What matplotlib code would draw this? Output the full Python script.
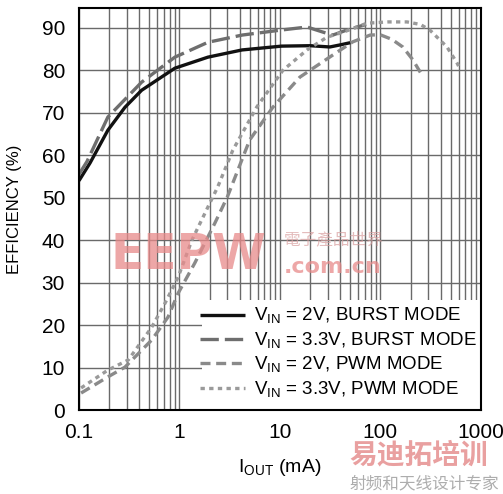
import matplotlib
matplotlib.use("Agg")
import matplotlib.pyplot as plt
from matplotlib.patches import Rectangle
import numpy as np

plt.rcParams['font.family'] = ['Liberation Sans', 'DejaVu Sans']

# V_IN = 2V, burst mode
burst2_x = [0.1, 0.129, 0.194, 0.287, 0.42, 0.9, 1.92, 4.2, 10.4, 20, 31.4, 40, 50]
burst2_y = [54, 58.2, 65.9, 71.3, 75.3, 80.5, 83.1, 84.8, 85.7, 85.8, 85.5, 86.0, 86.5]
# V_IN = 3.3V, burst mode
burst33_x = [0.1, 0.12, 0.194, 0.42, 0.9, 1.92, 4.2, 10.4, 18.6, 26.8, 33.6, 46.5, 62.7, 72]
burst33_y = [55.5, 58.5, 69, 77.2, 83.1, 86.6, 88.3, 89.5, 90.2, 89.0, 88.3, 89.5, 90.4, 90.8]
# V_IN = 2V, PWM mode
pwm2_x = [0.105, 0.194, 0.287, 0.53, 0.77, 0.97, 1.42, 2.25, 3.0, 5.0, 8.5, 15.8, 33.6, 53, 79, 99, 130, 167, 210, 250]
pwm2_y = [4.0, 7.8, 10.1, 16.5, 21.9, 27.5, 34.6, 44, 50.2, 63.6, 71.3, 78.4, 83.6, 86.7, 88.3, 88.4, 87.3, 85.5, 82.5, 79.5]
# V_IN = 3.3V, PWM mode
pwm33_x = [0.105, 0.194, 0.31, 0.53, 0.72, 0.97, 1.33, 1.92, 2.4, 3.4, 5.9, 10.7, 18.6, 29.4, 45, 73.5, 120, 184, 250, 310, 460, 580, 600]
pwm33_y = [5.2, 9.4, 11.8, 19.5, 25.2, 31.3, 40, 47.8, 52.5, 61.2, 71.4, 80, 84.8, 87.8, 89.2, 91.1, 91.4, 91.4, 90.8, 89.5, 85.5, 81.7, 81]

labels = ['V$_{\\mathregular{IN}}$ = 2V, BURST MODE',
          'V$_{\\mathregular{IN}}$ = 3.3V, BURST MODE',
          'V$_{\\mathregular{IN}}$ = 2V, PWM MODE',
          'V$_{\\mathregular{IN}}$ = 3.3V, PWM MODE']

fig = plt.figure(figsize=(5.03, 4.94), dpi=100)
ax = fig.add_axes([0.157, 0.170, 0.799, 0.814])

ax.set_xscale('log')
ax.set_xlim(0.1, 1000)
ax.set_ylim(0, 94.7)
ax.set_yticks(np.arange(0, 91, 10))
ax.set_xticks([0.1, 1, 10, 100, 1000])
ax.set_xticklabels(['0.1', '1', '10', '100', '1000'])
ax.tick_params(which='both', length=0, labelsize=15)
ax.tick_params(axis='x', pad=9)
ax.tick_params(axis='y', pad=10)
ax.grid(True, which='both', color='#6a6a6a', linewidth=1.0)
for s in ax.spines.values():
    s.set_linewidth(1.5)
    s.set_color('black')

lw = 2.4
l1, = ax.plot(burst2_x, burst2_y, color='#111111', lw=lw, solid_capstyle='butt')
l2, = ax.plot(burst33_x, burst33_y, color='#6e6e6e', lw=lw, dashes=(5.5, 1.8))
l3, = ax.plot(pwm2_x, pwm2_y, color='#8a8a8a', lw=lw, dashes=(3.0, 1.7))
l4, = ax.plot(pwm33_x, pwm33_y, color='#9a9a9a', lw=lw, dashes=(1.3, 1.3))

# white box behind the legend hides the grid
ax.add_patch(Rectangle((0.306, 0.0), 0.694, 0.274, transform=ax.transAxes,
                       facecolor='white', edgecolor='none', zorder=2.5))
leg = ax.legend([l1, l2, l3, l4], labels, loc='lower right', frameon=False,
                fontsize=13.5, handlelength=2.4, handletextpad=0.45,
                labelspacing=0.22, borderaxespad=0.15, bbox_to_anchor=(1.015, 0.0))
leg.set_zorder(3)

ax.set_xlabel('I$_{\\mathregular{OUT}}$ (mA)', fontsize=14, labelpad=11)
ax.set_ylabel('EFFICIENCY (%)', fontsize=12, labelpad=14)

# watermarks
fig.text(0.220, 0.455, 'EEPW', color='#e88a8a', alpha=0.75, fontsize=35,
         fontweight='bold', family=['DejaVu Sans'], zorder=5)
fig.text(0.565, 0.448, '.com.cn', color='#e88a8a', alpha=0.75, fontsize=16,
         fontweight='bold', family=['DejaVu Sans'], zorder=5)
fig.text(0.565, 0.505, '電子產品世界', color='#d9a0a0', alpha=0.7, fontsize=12,
         family=['Noto Sans CJK TC', 'DejaVu Sans'], zorder=5)
fig.text(0.695, 0.062, '易迪拓培训', color='#e07878', alpha=0.7, fontsize=20,
         fontweight='bold', family=['Noto Sans CJK SC', 'DejaVu Sans'])
fig.text(0.695, 0.012, '射频和天线设计专家', color='#999999', alpha=0.8, fontsize=12,
         family=['Noto Sans CJK SC', 'DejaVu Sans'])

fig.savefig('out.png', dpi=100)
